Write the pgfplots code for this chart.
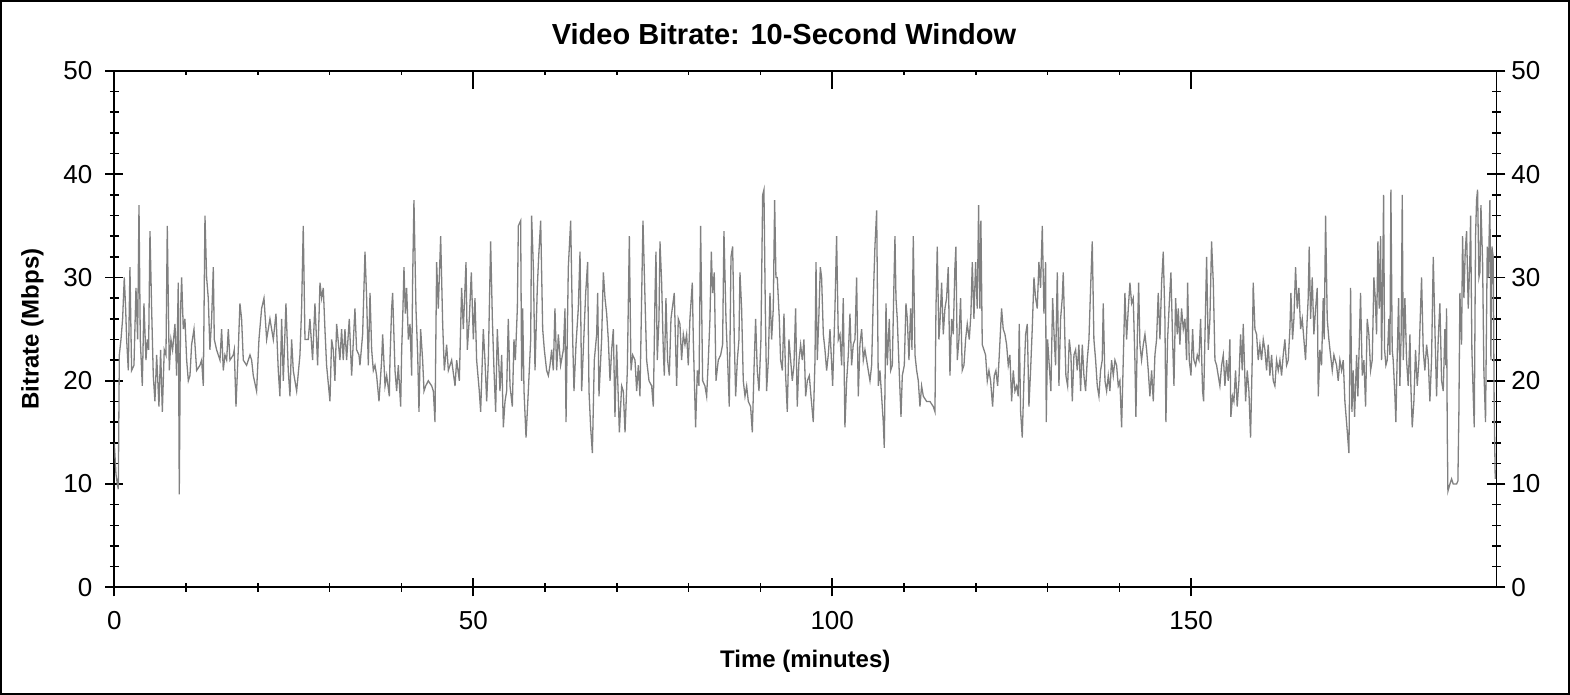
\documentclass[border=0pt]{standalone}
\usepackage{pgfplots}
\usepackage{pgfplotstable}
\pgfplotsset{compat=1.18}
\usepackage{fontspec}
\setmainfont{Liberation Sans}
\definecolor{rategray}{RGB}{128,128,128}

% video bitrate, 10-second window: time (min), bitrate (Mbps)
\pgfplotstableread{
t v
0 14
0.23 11
0.42 10
0.56 9.5
0.70 22.5
0.93 24
1.16 26
1.39 30
1.58 27
1.72 24
1.95 21
2.18 31
2.41 21
2.74 21.5
3.02 29
3.25 24
3.44 37
3.62 24
3.90 19.5
4.13 27.5
4.41 22
4.60 24
4.78 23
4.97 34.5
5.20 27
5.43 20.5
5.66 18
5.90 22.5
6.22 17.5
6.45 23
6.69 17
6.96 23
7.20 22.5
7.38 35
7.66 21
7.89 24
8.12 23
8.45 25.5
8.68 20.5
8.91 29.5
9.05 9
9.24 27
9.38 30
9.61 25
9.84 26
10.08 22
10.31 20
10.54 20.5
10.77 23.5
11.10 25
11.47 21
11.93 21.5
12.16 22
12.40 19.5
12.63 36
12.86 30
13.09 28
13.32 23
13.56 26
13.79 31
13.93 24
14.25 23
14.72 22
14.95 25
15.18 21
15.41 22.5
15.65 22
15.88 25
16.11 22
16.57 22.5
16.71 23
16.95 17.5
17.27 23
17.50 27.5
17.73 26
17.97 22
18.43 21.5
18.90 22.5
19.13 22
19.36 20.5
19.82 19
20.15 24
20.52 27
20.85 28
21.22 24
21.68 26
22.15 24
22.52 26.5
22.84 21
23.07 18.5
23.31 26
23.54 20
23.91 27.5
24.23 21
24.47 18.5
24.70 24
24.93 21
25.16 20
25.40 19
25.86 22.5
26.09 27
26.32 35
26.56 24
27.02 24
27.25 26
27.62 22
27.95 27.5
28.32 21.5
28.65 29.5
28.88 28
29.11 29
29.34 25
29.57 21.5
30.04 18
30.27 24
30.50 23
30.73 20
30.97 25.5
31.43 22
31.66 25
31.89 22
32.13 25
32.36 22
32.73 26
33.06 20.5
33.52 27
33.75 23
34.08 22.5
34.22 21.5
34.59 24.5
34.92 32.5
35.15 28
35.38 21.5
35.62 28.5
35.85 23
36.08 21
36.31 21.5
36.54 20.5
36.87 18
37.24 22
37.38 24.5
37.71 19.5
37.94 20.5
38.31 18.5
38.40 22
38.63 27
38.77 28.5
39.10 21
39.33 19
39.56 21.5
39.89 17.5
40.03 23
40.17 26
40.35 31
40.54 26.5
40.72 29
40.96 24
41.19 25.5
41.42 20.5
41.56 30
41.74 37.5
42.02 27
42.26 22.5
42.44 17
42.67 25
42.95 22
43.14 19
43.37 19.5
43.74 20
44.21 19.5
44.44 19
44.67 16
44.90 31.5
45.13 27
45.46 34
45.74 25.5
45.97 21
46.29 23.5
46.53 21
46.99 22
47.46 19.5
47.69 22
48.06 20
48.38 29
48.62 25
48.99 31.5
49.17 23
49.45 26
49.73 30.5
50.01 24
50.24 28
50.47 22
50.84 19
51.03 17
51.40 25
51.63 22
51.87 18
52.10 22
52.42 33.5
52.66 26
52.89 21
53.12 17
53.35 25
53.72 19
53.96 22.5
54.19 15.5
54.42 18
54.65 19
54.88 26
55.12 19.5
55.44 17.5
55.67 24
55.86 22
56.14 27
56.28 35
56.60 35.5
56.74 20
56.88 27
57.07 19
57.35 14.5
57.67 19
58.00 24
58.13 36
58.37 31
58.60 21
58.92 29
59.11 32
59.39 35.5
59.67 25
59.90 23
60.22 21
60.46 20.5
60.69 21.5
60.92 23
61.15 21
61.38 27
61.62 21
61.85 24.5
62.17 21.5
62.55 23
62.78 27
62.92 16
63.24 31
63.57 35.5
63.85 24
64.03 19
64.31 23.5
64.63 27
64.87 32.5
65.10 19
65.33 23
65.66 28.5
65.93 31.5
66.12 19
66.35 15.5
66.59 13
66.86 22
67.19 24.5
67.33 28.5
67.51 18.5
67.88 24
68.12 30.5
68.35 28
68.58 26.5
68.81 24
69.05 20
69.28 23
69.51 25
69.74 16.5
69.97 23.5
70.35 15
70.67 19.5
70.90 19
71.14 15
71.46 21
71.74 34
71.97 21
72.20 22.5
72.53 22
72.76 19
72.99 21.5
73.22 18.5
73.55 32
73.64 35.5
73.92 28
74.15 22
74.48 20
74.85 19.5
75.08 17.5
75.31 28
75.45 32.5
75.63 22
75.87 26
76.01 33.5
76.24 29.5
76.47 23
76.61 20.5
76.84 28
77.07 22
77.31 20.5
77.54 26
77.72 27
78.00 28.5
78.33 19.5
78.56 26
78.79 25.5
79.02 22
79.26 24.5
79.49 23.5
79.72 24.5
79.95 21.5
80.18 26
80.51 29.5
80.65 24
80.97 15.5
81.21 21
81.44 19.5
81.67 35
81.95 20
82.27 19.5
82.51 18.5
82.74 22
82.97 26
83.16 32.5
83.34 28.5
83.57 30.5
83.81 20
84.13 22
84.46 22.5
84.73 23.5
84.92 34.5
85.20 26
85.43 22
85.66 17.5
85.90 32
86.13 33
86.36 24
86.55 18.5
86.78 22
87.01 24
87.15 30.5
87.38 27
87.61 20
87.85 18.5
88.08 19.5
88.31 18
88.63 17.5
88.87 15
89.10 21
89.33 26
89.56 21
89.80 19
90.07 24
90.31 38
90.49 38.5
90.68 27
90.86 19
91.10 22
91.33 28.5
91.56 24
91.79 27
91.98 37.5
92.16 30
92.35 30
92.63 26
92.81 22
93.05 21
93.28 26.5
93.51 20.5
93.74 17
93.97 24
94.21 22
94.44 20
94.67 21.5
94.90 27
95.13 17.5
95.37 22
95.60 23.5
95.83 22
96.06 24
96.30 18.5
96.53 20
96.81 20.5
97.04 18.5
97.36 16
97.60 22
97.74 31.5
97.92 22
98.15 26.5
98.34 31
98.52 30
98.76 24.5
98.99 23
99.22 21
99.45 22.5
99.69 25
100.06 19.5
100.38 27
100.61 34
100.85 24
101.08 24.5
101.31 21.5
101.54 28
101.77 15.5
102.01 20
102.24 22.5
102.47 26.5
102.70 21.5
102.93 23.5
103.17 24
103.40 30
103.63 18.5
103.86 23.5
104.10 25
104.33 22
104.56 23
104.79 22
105.02 21
105.26 20
105.49 21.5
105.72 28
105.95 33
106.19 36.5
106.42 19.5
106.65 21
106.88 18.5
107.11 16
107.25 13.5
107.49 27.5
107.67 21.5
107.95 26
108.14 21
108.37 21.5
108.60 29.5
108.74 34
108.88 28
109.06 26
109.30 21.5
109.58 16.5
109.76 20.5
110.04 21.5
110.27 27.5
110.46 26
110.69 22
110.92 27
111.11 23
111.29 34
111.53 22.5
111.76 21
111.99 20
112.22 17.5
112.45 19.5
112.69 18.5
113.15 18
113.61 18
114.08 17.5
114.31 17
114.45 27
114.63 33
114.86 24
115.00 25.5
115.24 29.5
115.47 24.5
115.70 27
115.93 28
116.16 31
116.40 20.5
116.63 26
116.86 24.5
117.09 31
117.23 33
117.42 22
117.65 24
117.88 28
118.11 21
118.35 21.5
118.58 24
118.81 25.5
119.09 24
119.32 26.5
119.51 31.5
119.74 26
119.97 31.5
120.20 27
120.39 37
120.57 27
120.71 35.5
120.90 23.5
121.13 23
121.36 22.5
121.60 20
121.83 21
122.06 20
122.34 17.5
122.57 20.5
122.80 21
123.04 19.5
123.27 22.5
123.59 27
123.82 25
124.06 24.5
124.29 23.5
124.52 21.5
124.75 22.5
124.99 18
125.22 21
125.45 19
125.68 19.5
125.91 18.5
126.05 25.5
126.24 17
126.47 14.5
126.70 20
126.94 24.5
127.17 25.5
127.40 17.5
127.63 21
127.86 25
128.10 30
128.33 28
128.56 27
128.79 31.5
129.02 29
129.26 35
129.49 26.5
129.72 31.5
129.81 16
130.00 24
130.23 21.5
130.46 19
130.70 28
130.93 24
131.11 21.5
131.35 30.5
131.58 19.5
131.81 26
132.04 28
132.18 30.5
132.41 24
132.55 20.5
132.79 19.5
133.02 24
133.25 22.5
133.44 18
133.67 22.5
133.90 23
134.13 21
134.36 23.5
134.60 19
134.83 23.5
135.06 20.5
135.29 19
135.52 22
135.76 24
135.99 29
136.22 33.5
136.45 24
136.69 22
136.92 19.5
137.15 18.5
137.38 21
137.61 22
137.75 27.5
137.99 20
138.22 19
138.45 20.5
138.68 19
138.91 22
139.15 20.5
139.38 22
139.61 21.5
139.84 19.5
140.07 20
140.31 15.5
140.54 22
140.77 28.5
141.00 24
141.24 27
141.47 29.5
141.70 27.5
141.93 28
142.16 22
142.30 16.5
142.49 24
142.68 29.5
142.86 23.5
143.09 22
143.33 23.5
143.56 24.5
143.79 23
144.02 21
144.25 18.5
144.49 21
144.72 18
144.95 22.5
145.18 24
145.41 28.5
145.65 24
145.88 29.5
146.11 32.5
146.34 26
146.48 16
146.71 24
146.95 27.5
147.18 30.5
147.41 24
147.60 19.5
147.83 28
148.06 24.5
148.20 27
148.43 23.5
148.66 27
148.90 25
149.13 26
149.36 22
149.50 29.5
149.73 22
149.97 20.5
150.20 25
150.38 22
150.62 21.5
150.85 22.5
151.08 22
151.31 26
151.59 19
151.73 18
151.91 24
152.15 32
152.38 23
152.61 26
152.84 33.5
153.08 29.5
153.31 22
153.54 21.5
153.77 20.5
154.00 19.5
154.24 21.5
154.47 22.5
154.70 19.5
154.93 22
155.16 20
155.39 24
155.53 16.5
155.76 18.5
155.95 18
156.18 21
156.41 17.5
156.65 20
156.88 24.5
157.11 21
157.25 25.5
157.58 18
157.81 21
158.04 19
158.27 14.5
158.50 22
158.64 29.5
158.88 25
159.11 24.5
159.34 22
159.57 23.5
159.80 22
160.04 24
160.27 23
160.50 21
160.73 23.5
160.96 20.5
161.20 22.5
161.43 20
161.66 19.5
161.89 22
162.13 21
162.36 22
162.59 20.5
162.82 22.5
163.05 24
163.29 21.5
163.52 22
163.75 25
163.89 28.5
164.12 24
164.31 26
164.54 31
164.77 27
165.00 29
165.24 25
165.47 26
165.70 24
165.93 22
166.16 26
166.30 28
166.44 33
166.63 26
166.86 30
167.09 24.5
167.33 27
167.56 29
167.70 18.5
167.93 23
168.16 21.5
168.39 28
168.53 24
168.72 36
168.95 26
169.18 24
169.41 22.5
169.65 21
169.88 22.5
170.25 21.5
170.48 20
170.71 22
170.95 21
171.18 22
171.41 18
171.64 16
171.97 13
172.20 29
172.39 17
172.57 21
172.76 16.5
173.04 22.5
173.22 18.5
173.50 26
173.59 28.5
173.83 20.5
174.06 22
174.29 17.5
174.52 26
174.75 24.5
174.99 21
175.22 22
175.45 30
175.64 28
175.82 24.5
176.01 33.5
176.19 27
176.38 34
176.52 22
176.66 29
176.80 38
176.94 23
177.12 21.5
177.31 22
177.54 26
177.68 22.5
177.82 38.5
178.00 23
178.14 22
178.38 18.5
178.51 16
178.70 22.5
178.89 28
179.07 19.5
179.26 25
179.40 38
179.54 22
179.77 28
180.00 22
180.23 19.5
180.47 24.5
180.60 19.5
180.79 15.5
181.02 18
181.25 23
181.49 19.5
181.72 22
181.95 27
182.09 30
182.32 23
182.55 21
182.79 23.5
183.02 22
183.25 18
183.48 22
183.72 32
183.95 25
184.18 18.5
184.41 24
184.64 27.5
184.88 20
185.11 19
185.34 25
185.48 21.5
185.57 27
185.67 15
185.76 9.3
186.04 10
186.27 10.5
186.50 10
186.97 10
187.15 10.3
187.29 17
187.43 28.5
187.66 23.5
187.80 34
187.99 28
188.17 32.5
188.36 34.5
188.59 27
188.82 32
188.92 36
189.10 23
189.29 18.5
189.43 15.5
189.61 34
189.75 37.5
189.89 38.5
190.08 30
190.22 30.5
190.36 37
190.59 31.5
190.77 21
191.00 16
191.24 33
191.38 30
191.61 37.5
191.75 22
191.89 33
192.07 32
192.21 17
192.35 10.5
}\bitratedata

\pgfplotsset{
  common/.style={
    scale only axis, width=691pt, height=258.15pt,
    at={(0,0)}, anchor=south west,
    xmin=0, xmax=192.5, ymin=0, ymax=50,
    ytick={0,10,...,50}, minor y tick num=4,
    xtick={0,50,100,150}, minor x tick num=4,
    major tick length=9pt, minor tick length=4.5pt,
    every tick/.style={black, line width=0.8pt},
    axis line style={line width=0.8pt},
    /pgf/number format/assume math mode=true,
    tick label style={font=\fontsize{13}{15}\selectfont},
  },
}

\begin{document}
\begin{tikzpicture}
\useasboundingbox (-57.15pt,-53.85pt) rectangle (727.85pt,293.65pt);
\draw[line width=1pt] (-56.65pt,-53.35pt) rectangle (727.35pt,293.15pt);
% main axis: data, bottom x ticks, left labels
\begin{axis}[common,
  tick align=center,
  xtick pos=left,
  yticklabel pos=left,
  yticklabel style={xshift=-3pt},
  xticklabel style={yshift=-4pt},
  title={Video Bitrate: 10-Second Window},
  title style={at={(axis description cs:0.4846,1.0736)}, anchor=center, yshift=-6.5pt,
    font=\bfseries\fontsize{14.5}{17}\selectfont},
  xlabel={Time (minutes)},
  xlabel style={at={(axis description cs:0.5,-0.1432)}, anchor=center,
    font=\bfseries\fontsize{12}{14}\selectfont},
  ylabel={Bitrate (Mbps)},
  ylabel style={at={(axis description cs:-0.0593,0.5)}, anchor=center, rotate=0,
    font=\bfseries\fontsize{12}{14}\selectfont},
]
\addplot[rategray, line width=0.65pt, mark=none] table[x=t, y=v] {\bitratedata};
\end{axis}
% overlay: top x ticks pointing in, right y labels
\begin{axis}[common,
  tick align=inside,
  minor tick length=2pt,
  axis x line*=top,
  axis y line*=right,
  x axis line style={draw=none},
  y axis line style={draw=none},
  ytick style={draw=none},
  minor y tick num=0,
  xticklabels={},
  yticklabel pos=right,
  yticklabel style={xshift=4pt},
]
\end{axis}
\end{tikzpicture}
\end{document}
